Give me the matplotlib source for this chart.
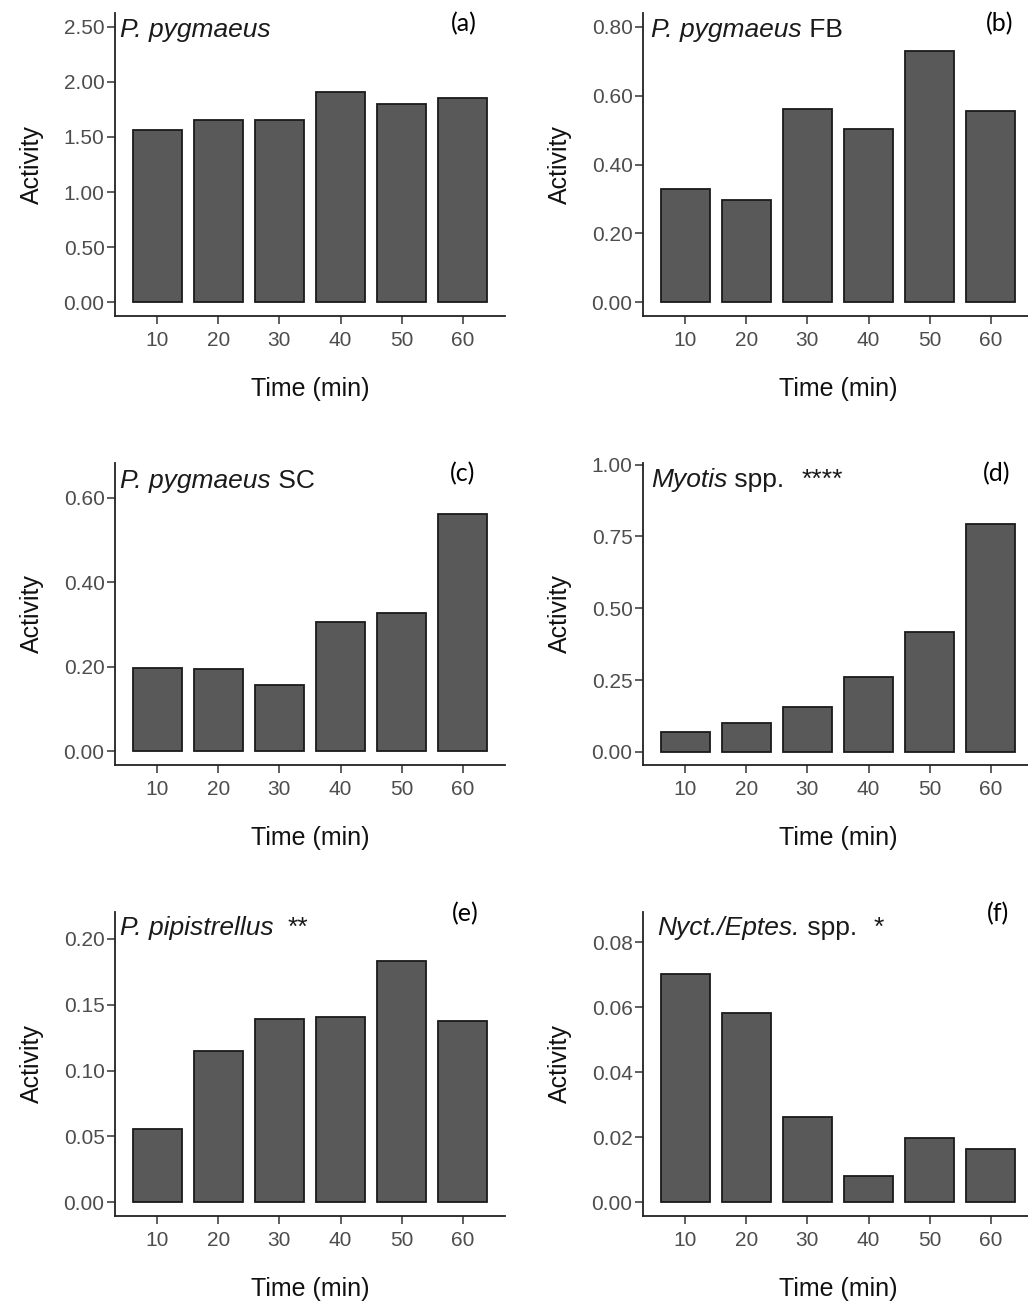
import numpy as np
import matplotlib
matplotlib.use("Agg")
import matplotlib.pyplot as plt

plt.rcParams['font.family'] = ['Liberation Sans', 'DejaVu Sans']

# data
times = [10, 20, 30, 40, 50, 60]
act_a = [1.56, 1.65, 1.65, 1.91, 1.80, 1.85]
act_b = [0.328, 0.297, 0.560, 0.503, 0.730, 0.555]
act_c = [0.198, 0.194, 0.156, 0.306, 0.328, 0.561]
act_d = [0.070, 0.099, 0.155, 0.259, 0.419, 0.794]
act_e = [0.0553, 0.1149, 0.1394, 0.1406, 0.183, 0.138]
act_f = [0.0702, 0.0581, 0.0262, 0.0082, 0.0197, 0.0163]

# species label: italic part, upright part
title_it = ["P. pygmaeus", "P. pygmaeus", "P. pygmaeus", "Myotis",
            "P. pipistrellus", "Nyct./Eptes."]
title_rm = ["", " FB", " SC", " spp.", "", " spp."]
stars = ["", "", "", "****", "**", "*"]
letters = ["(a)", "(b)", "(c)", "(d)", "(e)", "(f)"]

yticks_a = [0, 0.5, 1.0, 1.5, 2.0, 2.5]
yticks_b = [0, 0.2, 0.4, 0.6, 0.8]
yticks_c = [0, 0.2, 0.4, 0.6]
yticks_d = [0, 0.25, 0.5, 0.75, 1.0]
yticks_e = [0, 0.05, 0.10, 0.15, 0.20]
yticks_f = [0, 0.02, 0.04, 0.06, 0.08]

values = [act_a, act_b, act_c, act_d, act_e, act_f]
yticks = [yticks_a, yticks_b, yticks_c, yticks_d, yticks_e, yticks_f]
ylims = [(-0.125, 2.625), (-0.04, 0.84), (-0.0325, 0.6825),
         (-0.046, 1.006), (-0.0105, 0.2205), (-0.00425, 0.08925)]

W, H = 1028, 1305
fig = plt.figure(figsize=(W / 100, H / 100), dpi=100)

# axes boxes in pixels: left, top, bottom
cols = [115, 643]
rows = [(13, 316), (463, 765), (912, 1216)]
ax_w = 390

grey_txt = '#4d4d4d'
x = np.arange(len(times)) + 1

# pixel positions of the annotation texts
title_base = [37, 37, 488, 487, 935, 935]
title_left = [120, 651, 120, 651, 120, 657]
star_left = [None, None, None, 802, 288, 874]
letter_pos = [(464, 24), (1000, 24), (463, 474), (997, 474), (465, 914), (998, 914)]

for i in range(6):
    r, c = divmod(i, 2)
    top, bot = rows[r]
    ax = fig.add_axes([cols[c] / W, 1 - bot / H, ax_w / W, (bot - top) / H])
    ax.bar(x, values[i], width=0.8, color='#595959', edgecolor='#1a1a1a',
           linewidth=1.3)
    ax.set_xlim(0.31, 6.69)
    ax.set_ylim(*ylims[i])
    ax.set_xticks(x)
    ax.set_xticklabels([str(t) for t in times])
    ax.set_yticks(yticks[i])
    ax.set_yticklabels(["%.2f" % v for v in yticks[i]])
    for s in ['top', 'right']:
        ax.spines[s].set_visible(False)
    for s in ['left', 'bottom']:
        ax.spines[s].set_linewidth(1.3)
        ax.spines[s].set_color('#222222')
    ax.tick_params(axis='both', length=6, width=1.1, color='#333333',
                   labelsize=15, labelcolor=grey_txt)
    ax.tick_params(axis='y', pad=1.5)
    ax.tick_params(axis='x', pad=5)
    ax.set_xlabel("Time (min)", fontsize=18, color='#111111', labelpad=19)
    ax.set_ylabel("Activity", fontsize=18, color='#111111', labelpad=14)

    t = fig.text(title_left[i] / W, 1 - title_base[i] / H, title_it[i],
                 fontsize=19, style='italic', color='#1a1a1a',
                 ha='left', va='baseline')
    if title_rm[i]:
        ax.annotate(title_rm[i], xy=(1, 0), xycoords=t, fontsize=19,
                    color='#1a1a1a', ha='left', va='bottom')
    if stars[i]:
        fig.text(star_left[i] / W, 1 - title_base[i] / H, stars[i],
                 fontsize=19, color='#1a1a1a', ha='left', va='baseline')
    lx, ly = letter_pos[i]
    fig.text(lx / W, 1 - ly / H, letters[i], fontsize=18, color='black',
             family='Lato', ha='center', va='center')

fig.savefig("out.png", dpi=100)
